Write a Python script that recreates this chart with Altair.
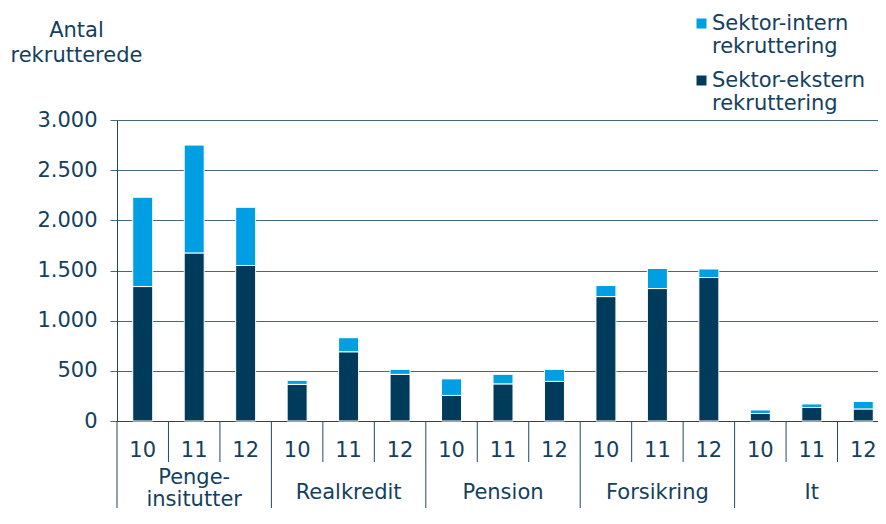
import altair as alt
import pandas as pd

groups = ["Penge-\ninsitutter", "Realkredit", "Pension", "Forsikring", "It"]
years = ["10", "11", "12"]
ekstern = [1340, 1675, 1550, 365, 690, 465, 255, 370, 395, 1240, 1320, 1430, 75, 135, 120]
intern = [890, 1075, 580, 40, 140, 50, 165, 95, 120, 110, 200, 85, 35, 35, 75]
series = ["Sektor-intern|rekruttering", "Sektor-ekstern|rekruttering"]
y_ticks = [0, 500, 1000, 1500, 2000, 2500, 3000]

TXT = "#143f5d"
AX = "#1f4a66"
GRID = "#46697f"
LIGHT = "#009fe3"
DARK = "#003b5c"
W, H = 761, 301
FS = 21

rows, keys = [], []
for gi, g in enumerate(groups):
    for yi, yr in enumerate(years):
        k = f"{gi}|{yr}"
        keys.append(k)
        i = gi * 3 + yi
        rows.append({"key": k, "serie": series[1], "value": ekstern[i], "ord": 0})
        rows.append({"key": k, "serie": series[0], "value": intern[i], "ord": 1})
df = pd.DataFrame(rows)
sep_df = pd.DataFrame({"key": keys, "first": [k.endswith("|10") for k in keys]})

grp_rows = []
for gi, g in enumerate(groups):
    parts = g.split("\n")
    if len(parts) == 1:
        grp_rows.append({"key": f"{gi}|11", "label": parts[0], "part": "single"})
    else:
        grp_rows.append({"key": f"{gi}|11", "label": parts[0], "part": "top"})
        grp_rows.append({"key": f"{gi}|11", "label": parts[1], "part": "bottom"})
grp_df = pd.DataFrame(grp_rows)

xscale = alt.Scale(paddingInner=0, paddingOuter=0, range=[0, 772])
xaxis = alt.Axis(title=None, labelExpr="split(datum.label,'|')[1]", labelAngle=0,
                 ticks=False, labelPadding=18, labelFontSize=FS, labelColor=TXT,
                 domainColor=AX, domainWidth=1, grid=False)

bars = alt.Chart(df).mark_bar(width=20, stroke="white", strokeWidth=1).encode(
    x=alt.X("key:N", sort=keys, scale=xscale, axis=xaxis),
    y=alt.Y("value:Q", stack="zero",
            scale=alt.Scale(domain=[0, 3000], nice=False),
            axis=alt.Axis(values=y_ticks, title=["Antal", "rekrutterede"],
                          titleAngle=0, titleAlign="center", titleBaseline="alphabetic",
                          titleX=-41, titleY=-84, titleLineHeight=25,
                          titleFontSize=FS, titleFontWeight="normal", titleColor=TXT,
                          labelExpr="replace(format(datum.value, ','), ',', '.')",
                          labelFontSize=FS, labelColor=TXT, labelPadding=13,
                          tickSize=7, tickColor=GRID, domainColor=AX,
                          grid=True, gridColor=GRID, gridWidth=1)),
    color=alt.Color("serie:N", scale=alt.Scale(domain=series, range=[LIGHT, DARK]),
                    legend=alt.Legend(orient="none", legendX=574, legendY=-107, title=None,
                                      symbolType="square", symbolSize=100,
                                      symbolStrokeWidth=0, labelFontSize=FS,
                                      labelColor=TXT, labelExpr="split(datum.label,'|')",
                                      labelBaseline="middle", labelOffset=0,
                                      labelLimit=400, rowPadding=12, padding=0)),
    order=alt.Order("ord:Q", sort="ascending"),
)

short_sep = alt.Chart(sep_df).transform_filter("!datum.first").mark_rule(
    color=AX, strokeWidth=1).encode(
    x=alt.X("key:N", sort=keys, scale=xscale, axis=xaxis, bandPosition=0),
    y=alt.value(H), y2=alt.value(H + 41))

long_sep = alt.Chart(sep_df).transform_filter("datum.first").mark_rule(
    color=AX, strokeWidth=1).encode(
    x=alt.X("key:N", sort=keys, scale=xscale, axis=xaxis, bandPosition=0),
    y=alt.value(H), y2=alt.value(H + 110))


def grp_layer(part, dy):
    return alt.Chart(grp_df).transform_filter(f"datum.part == '{part}'").mark_text(
        fontSize=FS, color=TXT, baseline="alphabetic").encode(
        x=alt.X("key:N", sort=keys, scale=xscale, axis=xaxis),
        y=alt.value(H + dy), text="label:N")


grp_single = grp_layer("single", 78)
grp_top = grp_layer("top", 63)
grp_bottom = grp_layer("bottom", 85)

chart = alt.layer(bars, short_sep, long_sep, grp_single, grp_top, grp_bottom).properties(
    width=W, height=H,
    autosize=alt.AutoSizeParams(type="none"),
    padding={"left": 109, "top": 112, "right": 0, "bottom": 87}
).configure_view(stroke=None).configure(font="DejaVu Sans")

chart.save("out.html", embed_options={"renderer": "svg", "actions": False})
